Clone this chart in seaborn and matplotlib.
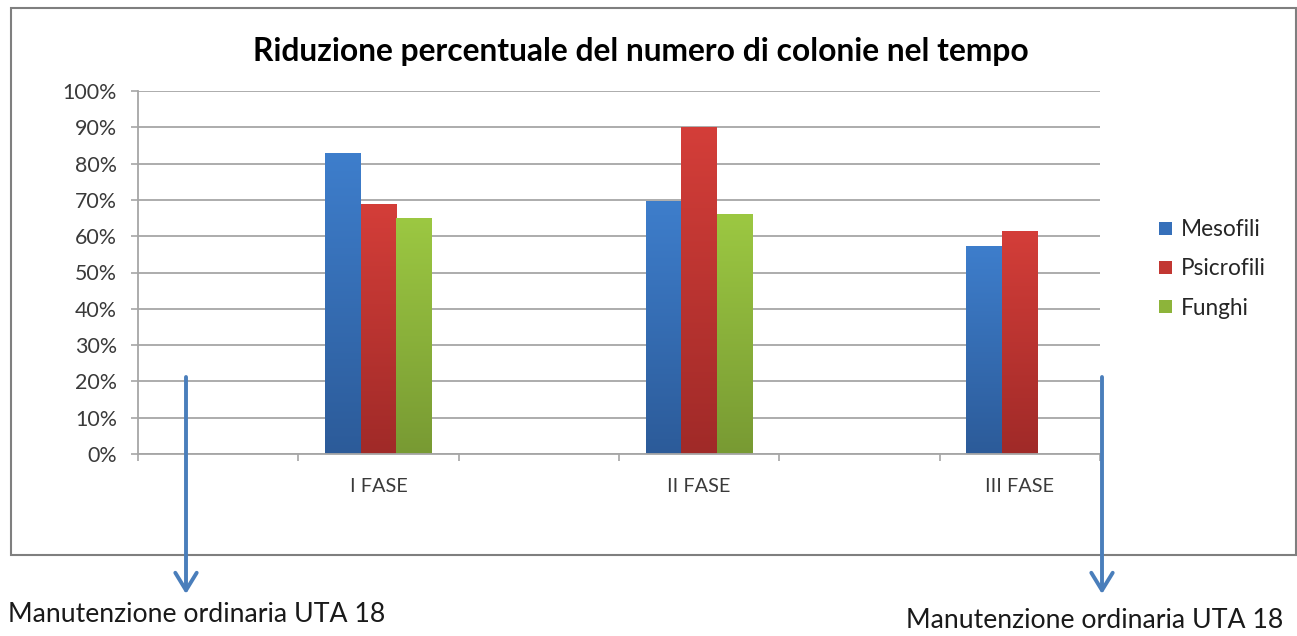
import numpy as np
import pandas as pd
import matplotlib
matplotlib.use("Agg")
import matplotlib.pyplot as plt
import seaborn as sns
from matplotlib.patches import Rectangle, Patch, FancyArrowPatch
from matplotlib.colors import LinearSegmentedColormap

# ---- data ----
order = ["", "I FASE", " ", "II FASE", "  ", "III FASE"]
series = ["Mesofili", "Psicrofili", "Funghi"]
fasi = ["I FASE", "II FASE", "III FASE"]
mesofili = [82.8, 69.7, 57.4]
psicrofili = [68.9, 90.2, 61.5]
funghi = [65.1, 66.0]          # no value for III FASE
yticks = list(range(0, 101, 10))
title = "Riduzione percentuale del numero di colonie nel tempo"
note = "Manutenzione ordinaria UTA 18"

rows = []
for f, v in zip(fasi, mesofili):
    rows.append((f, "Mesofili", v))
for f, v in zip(fasi, psicrofili):
    rows.append((f, "Psicrofili", v))
for f, v in zip(fasi[:2], funghi):
    rows.append((f, "Funghi", v))
df = pd.DataFrame(rows, columns=["fase", "serie", "valore"])

colors = {"Mesofili": "#3670BA", "Psicrofili": "#C23732", "Funghi": "#8DB43A"}
grad = {"Mesofili": ("#3E7ECC", "#2C5B99"),
        "Psicrofili": ("#D43E39", "#A02A28"),
        "Funghi": ("#9CC842", "#789A33")}

sns.set_theme(style="white")
plt.rcParams["font.family"] = ["Lato", "DejaVu Sans"]

W, H = 1297, 636
fig = plt.figure(figsize=(W / 100, H / 100), dpi=100)
ax = fig.add_axes([138 / W, 1 - 454 / H, (1100 - 138) / W, (454 - 91) / H])

sns.barplot(data=df, x="fase", y="valore", hue="serie", order=order,
            hue_order=series, palette=colors, width=0.667, ax=ax,
            legend=False, saturation=1, linewidth=0)

# vertical gradient fill for each bar
for p in list(ax.patches):
    fc = p.get_facecolor()
    key = None
    for k, c in colors.items():
        if np.allclose(matplotlib.colors.to_rgba(c), fc, atol=0.01):
            key = k
    if key is None or p.get_height() == 0 or np.isnan(p.get_height()):
        continue
    cmap = LinearSegmentedColormap.from_list("g", [grad[key][1], grad[key][0]])
    x0, y0 = p.get_x(), p.get_y()
    w, h = p.get_width(), p.get_height()
    g = np.linspace(0, 1, 256).reshape(-1, 1)
    im = ax.imshow(g, cmap=cmap, aspect="auto", origin="lower",
                   extent=[x0, x0 + w, y0, y0 + h], zorder=p.get_zorder() + 0.1)
    im.set_clip_path(p)

ax.set_xlim(-0.5, len(order) - 0.5)
ax.set_ylim(0, 100)
ax.set_yticks(yticks)
ax.set_yticklabels([f"{t}%" for t in yticks])
ax.set_xticks(range(len(order)))
ax.set_xticklabels(order)
ax.set_xticks(np.arange(-0.5, len(order), 1.0), minor=True)
ax.set_xlabel("")
ax.set_ylabel("")
ax.yaxis.grid(True, color="#A6A6A6", linewidth=1.3)
ax.set_axisbelow(True)
ax.tick_params(axis="x", which="major", length=0, pad=17, labelsize=14.3,
               labelcolor="#3A3A3A")
ax.tick_params(axis="x", which="minor", length=5, width=1.2, color="#A6A6A6",
               direction="out", bottom=True)
ax.tick_params(axis="y", length=5, width=1.2, color="#A6A6A6", direction="out",
               left=True, labelsize=15.4, labelcolor="#3A3A3A", pad=10)
for s in ["top", "right"]:
    ax.spines[s].set_visible(False)
for s in ["left", "bottom"]:
    ax.spines[s].set_color("#A6A6A6")
    ax.spines[s].set_linewidth(1.3)

# chart frame
fig.patches.append(Rectangle((11 / W, 1 - 555 / H), (1296 - 11) / W, (555 - 8) / H,
                             transform=fig.transFigure, fill=False,
                             edgecolor="#7F7F7F", linewidth=1.5, zorder=0))

fig.text(641 / W, 1 - 51 / H, title, ha="center", va="center",
         fontsize=22.9, fontweight="bold", color="#000000")

# legend
handles = [Patch(facecolor=colors[s], edgecolor="none") for s in series]
fig.legend(handles, series, loc="upper left",
           bbox_to_anchor=(1139 / W, 1 - 199 / H), frameon=False,
           fontsize=16.3, handlelength=0.55, handleheight=0.55, handletextpad=0.4,
           labelspacing=0.8, labelcolor="#262626")

# arrows and notes
for xa in (186, 1102):
    fig.add_artist(FancyArrowPatch(
        (xa / W, 1 - 377 / H), (xa / W, 1 - 594 / H),
        transform=fig.transFigure, arrowstyle="->,head_length=0.9,head_width=0.55",
        color="#4A7EBB", linewidth=2.8, mutation_scale=14, shrinkA=0, shrinkB=0))
fig.text(8 / W, 1 - 614 / H, note, ha="left", va="center", fontsize=19.2,
         color="#1A1A1A")
fig.text(1283 / W, 1 - 620 / H, note, ha="right", va="center", fontsize=19.2,
         color="#1A1A1A")

fig.savefig("out.png", dpi=100, facecolor="white")
